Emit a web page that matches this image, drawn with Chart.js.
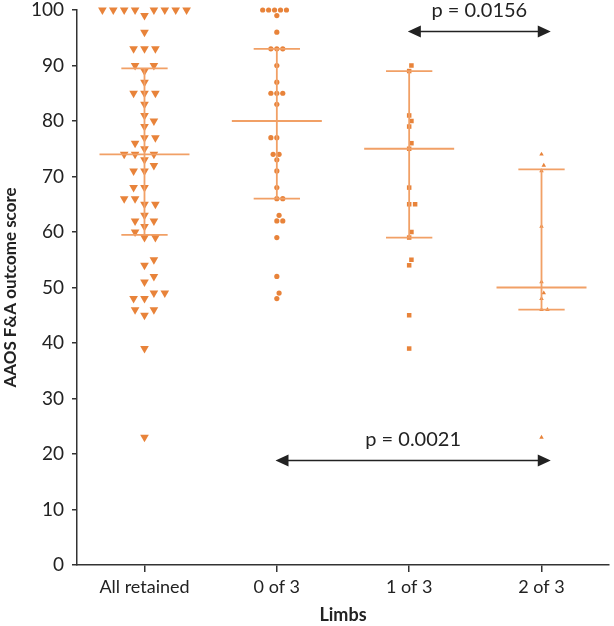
<!DOCTYPE html>
<html>
<head>
<meta charset="utf-8">
<script src="https://cdn.jsdelivr.net/npm/chart.js@4/dist/chart.umd.min.js"></script>
<style>
  html, body { margin: 0; padding: 0; background: #fff; }
  #wrap { width: 614px; height: 626px; }
</style>
</head>
<body>
<div id="wrap"><canvas id="myChart" width="614" height="626"></canvas></div>
<script>
const categories = ['All retained', '0 of 3', '1 of 3', '2 of 3'];

// scores, one list per group
const allRetained = [100, 100, 100, 100, 100, 100, 100, 100, 99, 96, 93, 93, 93, 90, 90, 89, 87,
    85, 85, 85, 83, 81, 80, 79, 77, 77, 76, 75, 74, 74, 74, 73, 72, 71, 71, 68, 68, 66, 66,
    65, 65, 63, 62, 62, 61, 60, 59, 59, 55, 54, 52, 51, 49, 49, 48, 48, 46, 46, 45, 39, 23];
const zeroOf3 = [100, 100, 100, 100, 100, 99, 96, 93, 93, 93, 90, 87, 85, 85, 85, 83, 77, 77,
    74, 74, 73, 71, 68, 66, 66, 63, 62, 62, 59, 52, 49, 48];
const oneOf3 = [90, 89, 81, 80, 79, 76, 75, 68, 65, 65, 60, 59, 55, 54, 45, 39];
const twoOf3 = [74, 72, 71, 61, 51, 49, 48, 46, 46, 23];

const medians = [74, 80, 75, 50];
const lowerQuartiles = [59.5, 66, 59, 46];
const upperQuartiles = [89.5, 93, 89, 71.3];

const pLabels = ['p = 0.0156', 'p = 0.0021'];
const pPairs = [[2, 3], [1, 3]];

const orange = '#E8833A';
const lineOrange = '#F1A066';

// simple beeswarm: place each point as close to the centre as it can go,
// switching sides on ties so the rows stay balanced
function swarm(values, centre, minDist) {
    const pxX = 133.6, pxY = 5.55;
    const placed = [];
    let side = -1;
    values.slice().sort((a, b) => a - b).forEach(v => {
        const y = v * pxY;
        const cands = [0];
        placed.forEach(p => {
            const dy = Math.abs(p.y - y);
            if (dy < minDist) {
                const dx = Math.sqrt(minDist * minDist - dy * dy);
                cands.push(p.x + dx, p.x - dx);
            }
        });
        const ok = cands.filter(c => placed.every(p => Math.hypot(p.x - c, p.y - y) >= minDist - 1e-6));
        ok.sort((a, b) => Math.abs(a) - Math.abs(b) || (a - b) * side);
        const x = ok[0];
        if (Math.abs(x) > 1e-6) side = -Math.sign(x);
        placed.push({ x: x, y: y, v: v });
    });
    return placed.map(p => ({ x: centre + p.x / pxX, y: p.v }));
}

const medianData = [];
const barData = [];
medians.forEach((m, i) => {
    medianData.push({ x: i - 0.34, y: m }, { x: i + 0.34, y: m }, { x: i, y: null });
    const lo = lowerQuartiles[i], hi = upperQuartiles[i];
    barData.push({ x: i - 0.175, y: hi }, { x: i + 0.175, y: hi }, { x: i, y: null },
        { x: i, y: hi }, { x: i, y: lo }, { x: i, y: null },
        { x: i - 0.175, y: lo }, { x: i + 0.175, y: lo }, { x: i, y: null });
});

const pArrows = {
    id: 'pArrows',
    afterDraw(chart) {
        const ctx = chart.ctx;
        const xs = chart.scales.x, ys = chart.scales.y;
        const levels = [96.2, 19];
        ctx.save();
        ctx.strokeStyle = '#222';
        ctx.fillStyle = '#222';
        ctx.lineWidth = 1.5;
        pPairs.forEach((pair, k) => {
            const x1 = xs.getPixelForValue(pair[0] - 0.01);
            const x2 = xs.getPixelForValue(pair[1] + 0.07);
            const y = Math.round(ys.getPixelForValue(levels[k])) + 0.5;
            ctx.beginPath();
            ctx.moveTo(x1 + 6, y);
            ctx.lineTo(x2 - 6, y);
            ctx.stroke();
            ctx.beginPath();
            ctx.moveTo(x1, y); ctx.lineTo(x1 + 13, y - 6); ctx.lineTo(x1 + 13, y + 6); ctx.closePath();
            ctx.moveTo(x2, y); ctx.lineTo(x2 - 13, y - 6); ctx.lineTo(x2 - 13, y + 6); ctx.closePath();
            ctx.fill();
            ctx.font = '20px Lato';
            ctx.textAlign = 'center';
            ctx.textBaseline = 'alphabetic';
            ctx.fillText(pLabels[k], (x1 + x2) / 2, y - 15);
        });
        ctx.restore();
    }
};

let ctx = document.getElementById('myChart');

var myChart = new Chart(ctx, {
    type: 'scatter',
    data: {
        datasets: [
            { data: medianData, showLine: true, borderColor: lineOrange, borderWidth: 1.8, pointRadius: 0, clip: false },
            { data: barData, showLine: true, borderColor: lineOrange, borderWidth: 1.8, pointRadius: 0, clip: false },
            { data: swarm(allRetained, 0, 11), pointStyle: 'triangle', rotation: 180, pointRadius: 5, backgroundColor: orange, borderWidth: 0, clip: false },
            { data: swarm(zeroOf3, 1, 6), pointStyle: 'circle', pointRadius: 2.6, backgroundColor: orange, borderWidth: 0, clip: false },
            { data: swarm(oneOf3, 2, 6), pointStyle: 'rect', pointRadius: 3.2, backgroundColor: orange, borderWidth: 0, clip: false },
            { data: swarm(twoOf3, 3, 6), pointStyle: 'triangle', pointRadius: 2.6, backgroundColor: orange, borderWidth: 0, clip: false },
        ]
    },
    options: {
        responsive: false,
        animation: false,
        layout: { padding: { top: 10, right: 0, left: 0, bottom: 0 } },
        plugins: { legend: { display: false }, tooltip: { enabled: false } },
        scales: {
            x: {
                type: 'linear',
                min: -0.51,
                max: 3.51,
                afterBuildTicks: s => { s.ticks = categories.map((c, i) => ({ value: i })); },
                afterFit: s => { s.height = 61; s.paddingLeft = 0; s.paddingRight = 0; },
                ticks: {
                    callback: v => categories[v],
                    font: { family: 'Lato', size: 18 },
                    color: '#222',
                    padding: 4,
                    maxRotation: 0
                },
                grid: { drawOnChartArea: false, tickLength: 7, color: '#333', lineWidth: 1.5 },
                border: { color: '#333', width: 1.5 },
                title: { display: true, text: 'Limbs', font: { family: 'Lato', size: 18, weight: 'bold' }, color: '#222', padding: { top: 0, bottom: 0 } }
            },
            y: {
                min: 0,
                max: 100,
                afterFit: s => { s.width = 77; s.paddingTop = 0; s.paddingBottom = 0; },
                ticks: {
                    stepSize: 10,
                    font: { family: 'Lato', size: 19 },
                    color: '#222',
                    padding: 8
                },
                grid: { drawOnChartArea: false, tickLength: 5, color: '#333', lineWidth: 1.5 },
                border: { color: '#333', width: 1.5 },
                title: { display: true, text: 'AAOS F&A outcome score', font: { family: 'Lato', size: 17, weight: 'bold' }, color: '#222', padding: { top: 0, bottom: 0 } }
            }
        }
    },
    plugins: [pArrows]
});
</script>
</body>
</html>
